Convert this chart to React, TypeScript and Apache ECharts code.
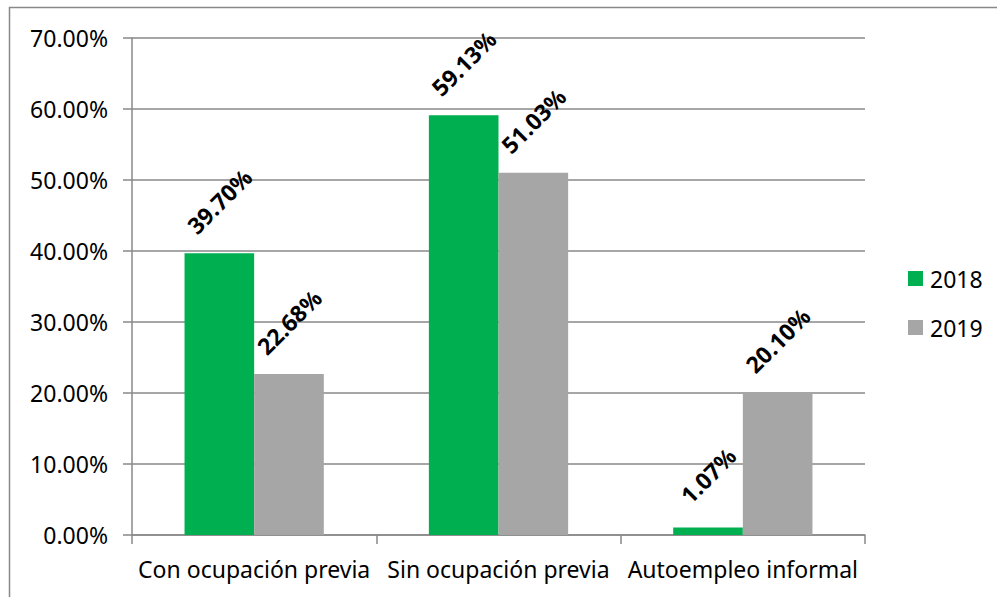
import React, { useEffect, useRef } from "react";
import * as echarts from "echarts";

const categories = ["Con ocupación previa", "Sin ocupación previa", "Autoempleo informal"];
const seriesNames = ["2018", "2019"];
const values2018 = [0.397, 0.5913, 0.0107];
const values2019 = [0.2268, 0.5103, 0.201];
const colors = ["#00B050", "#A6A6A6"];

const FONT = "'Noto Sans', 'Open Sans', sans-serif";

export default function App() {
  const ref = useRef<HTMLDivElement>(null);
  useEffect(() => {
    if (!ref.current) return;
    const chart = echarts.init(ref.current, null, { renderer: "svg" });
    const pct = (v: number) => (v * 100).toFixed(2) + "%";
    const label = {
      show: true,
      position: "top",
      distance: 52,
      rotate: 45,
      align: "center",
      verticalAlign: "middle",
      color: "#000",
      fontWeight: "bold",
      fontSize: 23,
      fontFamily: FONT,
      formatter: (p: any) => pct(p.value),
    };
    chart.setOption({
      animation: false,
      backgroundColor: "#fff",
      graphic: [
        {
          type: "rect",
          shape: { x: 9.5, y: 7.5, width: 1000, height: 600 },
          style: { fill: "none", stroke: "#898989", lineWidth: 1.5 },
          silent: true,
        },
      ],
      grid: { left: 132, right: 132, top: 38, bottom: 62 },
      legend: {
        orient: "vertical",
        left: 903,
        top: 262,
        itemWidth: 15,
        itemHeight: 15,
        itemGap: 26,
        icon: "rect",
        textStyle: { fontSize: 23, fontFamily: FONT, color: "#000", padding: [0, 0, 0, 2] },
        data: seriesNames,
      },
      xAxis: {
        type: "category",
        data: categories,
        axisLine: { lineStyle: { color: "#898989", width: 1.5 } },
        axisTick: { show: true, length: 9, lineStyle: { color: "#898989", width: 1.5 } },
        axisLabel: { fontSize: 23, fontFamily: FONT, color: "#000", margin: 22, interval: 0 },
      },
      yAxis: {
        type: "value",
        min: 0,
        max: 0.7,
        interval: 0.1,
        axisLine: { show: true, lineStyle: { color: "#898989", width: 1.5 } },
        axisTick: { show: true, length: 9, lineStyle: { color: "#898989", width: 1.5 } },
        splitLine: { show: true, lineStyle: { color: "#898989", width: 1.5 } },
        axisLabel: {
          fontSize: 23,
          fontFamily: FONT,
          color: "#000",
          margin: 24,
          formatter: (v: number) => pct(v),
        },
      },
      series: [
        {
          name: seriesNames[0],
          type: "bar",
          data: values2018,
          itemStyle: { color: colors[0] },
          barGap: "0%",
          barCategoryGap: "43%",
          label,
        },
        {
          name: seriesNames[1],
          type: "bar",
          data: values2019,
          itemStyle: { color: colors[1] },
          barGap: "0%",
          barCategoryGap: "43%",
          label,
        },
      ],
    });
    return () => chart.dispose();
  }, []);
  return (
    <div
      ref={ref}
      style={{ position: "fixed", left: 0, top: 0, width: 997, height: 597 }}
    />
  );
}
